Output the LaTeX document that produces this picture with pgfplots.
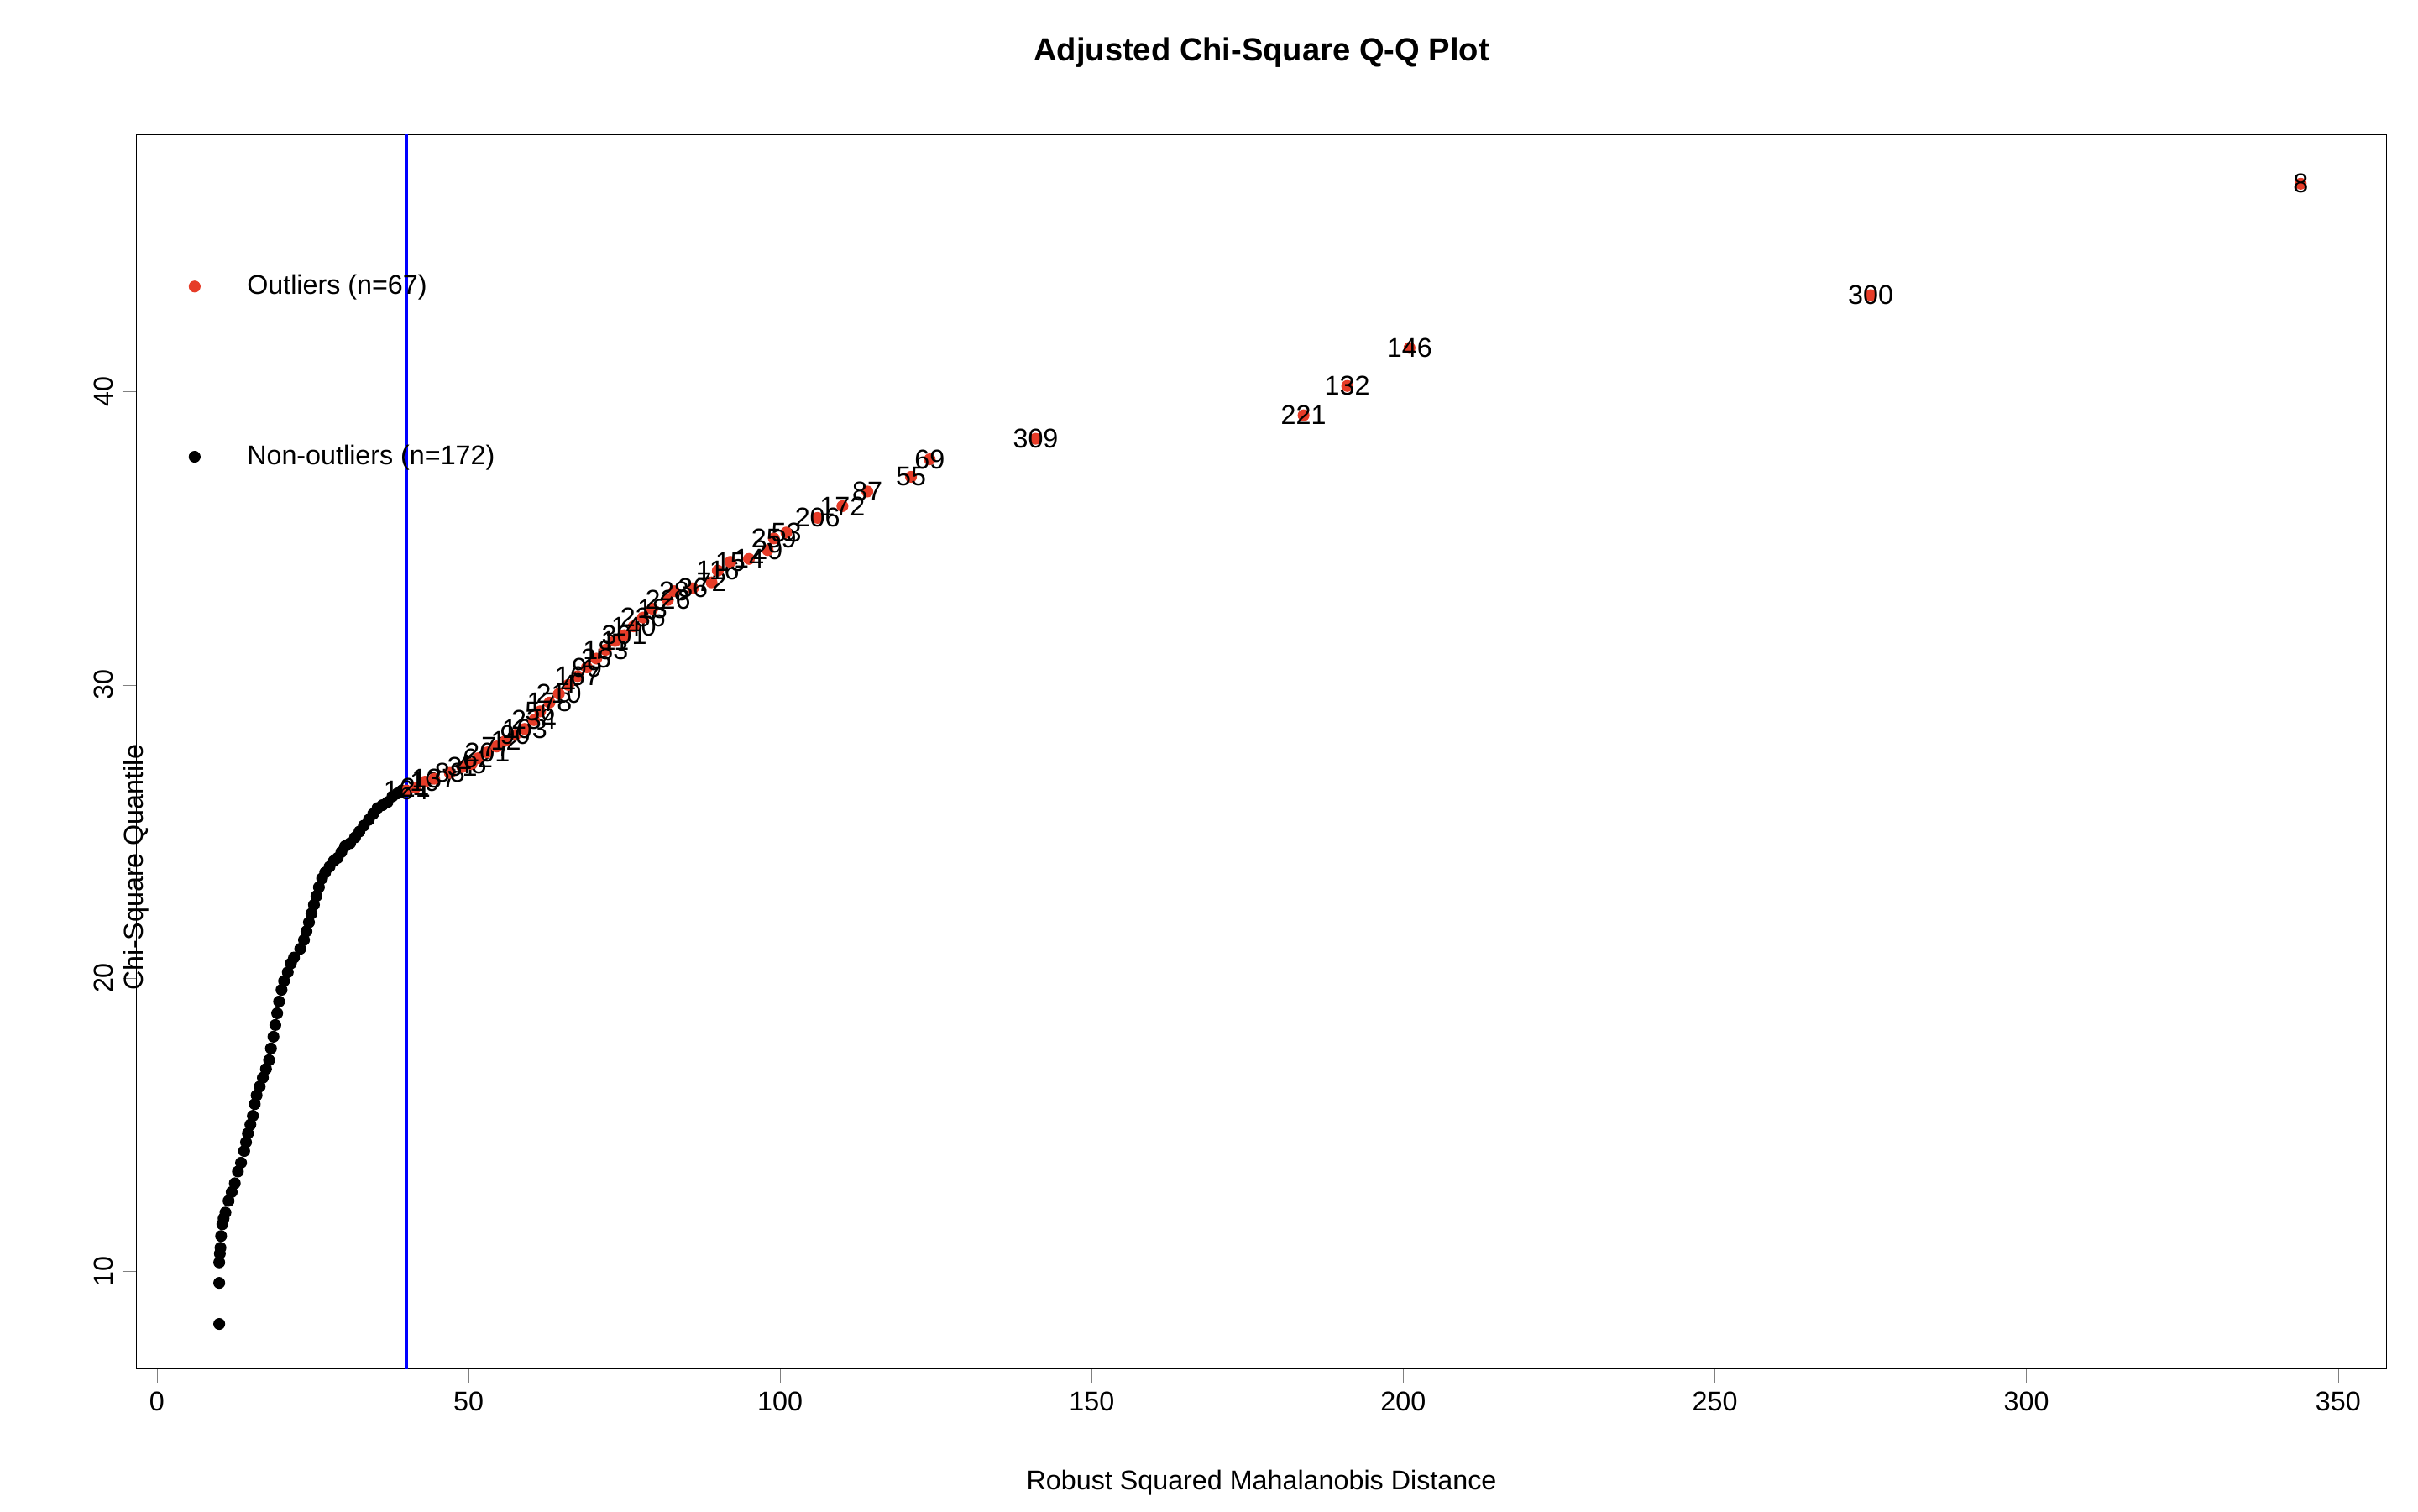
\documentclass[border=0pt]{standalone}
\usepackage{pgfplots}
\pgfplotsset{compat=1.18}
\usepackage{fontspec}
\setmainfont{Liberation Sans}
\definecolor{outred}{RGB}{230,60,40}
\begin{document}
\fontsize{11}{13}\selectfont
\begin{tikzpicture}
\begin{axis}[
  scale only axis, width=32.1cm, height=17.6cm,
  xmin=-3.3, xmax=357.8, ymin=6.68, ymax=48.77,
  xtick={0,50,...,350}, ytick={10,20,30,40},
  tick align=outside, xtick pos=bottom, ytick pos=left,
  major tick length=0.2cm,
  yticklabel style={rotate=90},
  /pgf/number format/assume math mode=true,
  ticklabel style={font=\fontsize{11}{13}\selectfont},
  title={\bfseries\fontsize{13}{15}\selectfont Adjusted Chi-Square Q-Q Plot},
  title style={at={(0.5,1)}, anchor=center, yshift=0.96cm},
  xlabel={Robust Squared Mahalanobis Distance},
  ylabel={Chi-Square Quantile},
  xlabel style={at={(0.5,0)}, anchor=center, yshift=-1.63cm},
  ylabel style={at={(0,0.5)}, anchor=center, xshift=-1.65cm},
  legend style={at={(0.02,0.895)}, anchor=north west, draw=none, fill=none, row sep=1.95cm, font=\fontsize{11}{13}\selectfont},
  legend cell align=left,
]
\addlegendimage{only marks, mark=*, mark size=2.2pt, outred}
\addlegendentry{\hspace{0.6cm}Outliers (n=67)}
\addlegendimage{only marks, mark=*, mark size=2.2pt, black}
\addlegendentry{\hspace{0.6cm}Non-outliers (n=172)}
\addplot[blue, line width=1.2pt, forget plot] coordinates {(40,0)(40,60)};
\addplot[only marks, mark=*, mark size=2.2pt, black, forget plot] coordinates {
(10,8.2)(10,9.6)(10,10.3)(10.1,10.6)(10.2,10.8)(10.3,11.2)(10.5,11.6)(10.7,11.8)(11,12.0)(11.5,12.4)(12,12.7)(12.5,13.0)(13,13.4)(13.5,13.7)(14,14.1)(14.3,14.4)(14.6,14.7)(15,15.0)(15.4,15.3)(15.7,15.7)(16,16.0)(16.5,16.3)(17,16.6)(17.5,16.9)(18,17.2)(18.3,17.6)(18.7,18.0)(19,18.4)(19.3,18.8)(19.6,19.2)(20,19.6)(20.4,19.9)(21,20.2)(21.5,20.5)(22,20.7)(23,21.0)(23.6,21.3)(24,21.6)(24.4,21.9)(24.8,22.2)(25.2,22.5)(25.6,22.8)(26,23.1)(26.5,23.4)(27,23.6)(27.7,23.8)(28.4,24.0)(29,24.1)(29.6,24.3)(30.2,24.5)(31,24.6)(31.8,24.8)(32.5,25.0)(33.2,25.2)(34,25.4)(34.7,25.6)(35.4,25.8)(36.2,25.9)(37,26.0)(37.8,26.2)(38.6,26.3)(39.3,26.4)};
\addplot[only marks, mark=*, mark size=2.2pt, outred, forget plot,
  point meta=explicit symbolic, nodes near coords,
  nodes near coords style={black, anchor=center, font=\fontsize{11}{13}\selectfont}] table[meta=l] {
x y l
40 26.4 164
41.5 26.5 21
43 26.7 19
44.5 26.8 137
47 27.0 88
49 27.2 31
50.5 27.3 45
51.5 27.5 62
53 27.7 201
54.5 27.9 77
56 28.1 12
57.5 28.3 90
59 28.5 103
60.5 28.8 234
61.5 29.1 56
63 29.4 178
64.5 29.7 210
66 30.0 4
67.5 30.3 167
69 30.6 99
70.5 30.9 25
72 31.2 183
73.5 31.5 11
75 31.7 301
76.5 32.0 140
78 32.3 236
79.5 32.6 18
82 32.9 226
83 33.2 28
86 33.3 36
89 33.5 72
90 33.9 116
92 34.2 15
95 34.3 14
98 34.6 29
99 35.0 259
101 35.2 53
106 35.7 206
110 36.1 172
114 36.6 87
121 37.1 55
124 37.7 69
141 38.4 309
184 39.2 221
191 40.2 132
201 41.5 146
275 43.3 300
344 47.1 8
};
\end{axis}
\useasboundingbox ([xshift=-1.945cm,yshift=-2.035cm]current axis.south west) rectangle ([xshift=0.447cm,yshift=1.923cm]current axis.north east);
\end{tikzpicture}
\end{document}
